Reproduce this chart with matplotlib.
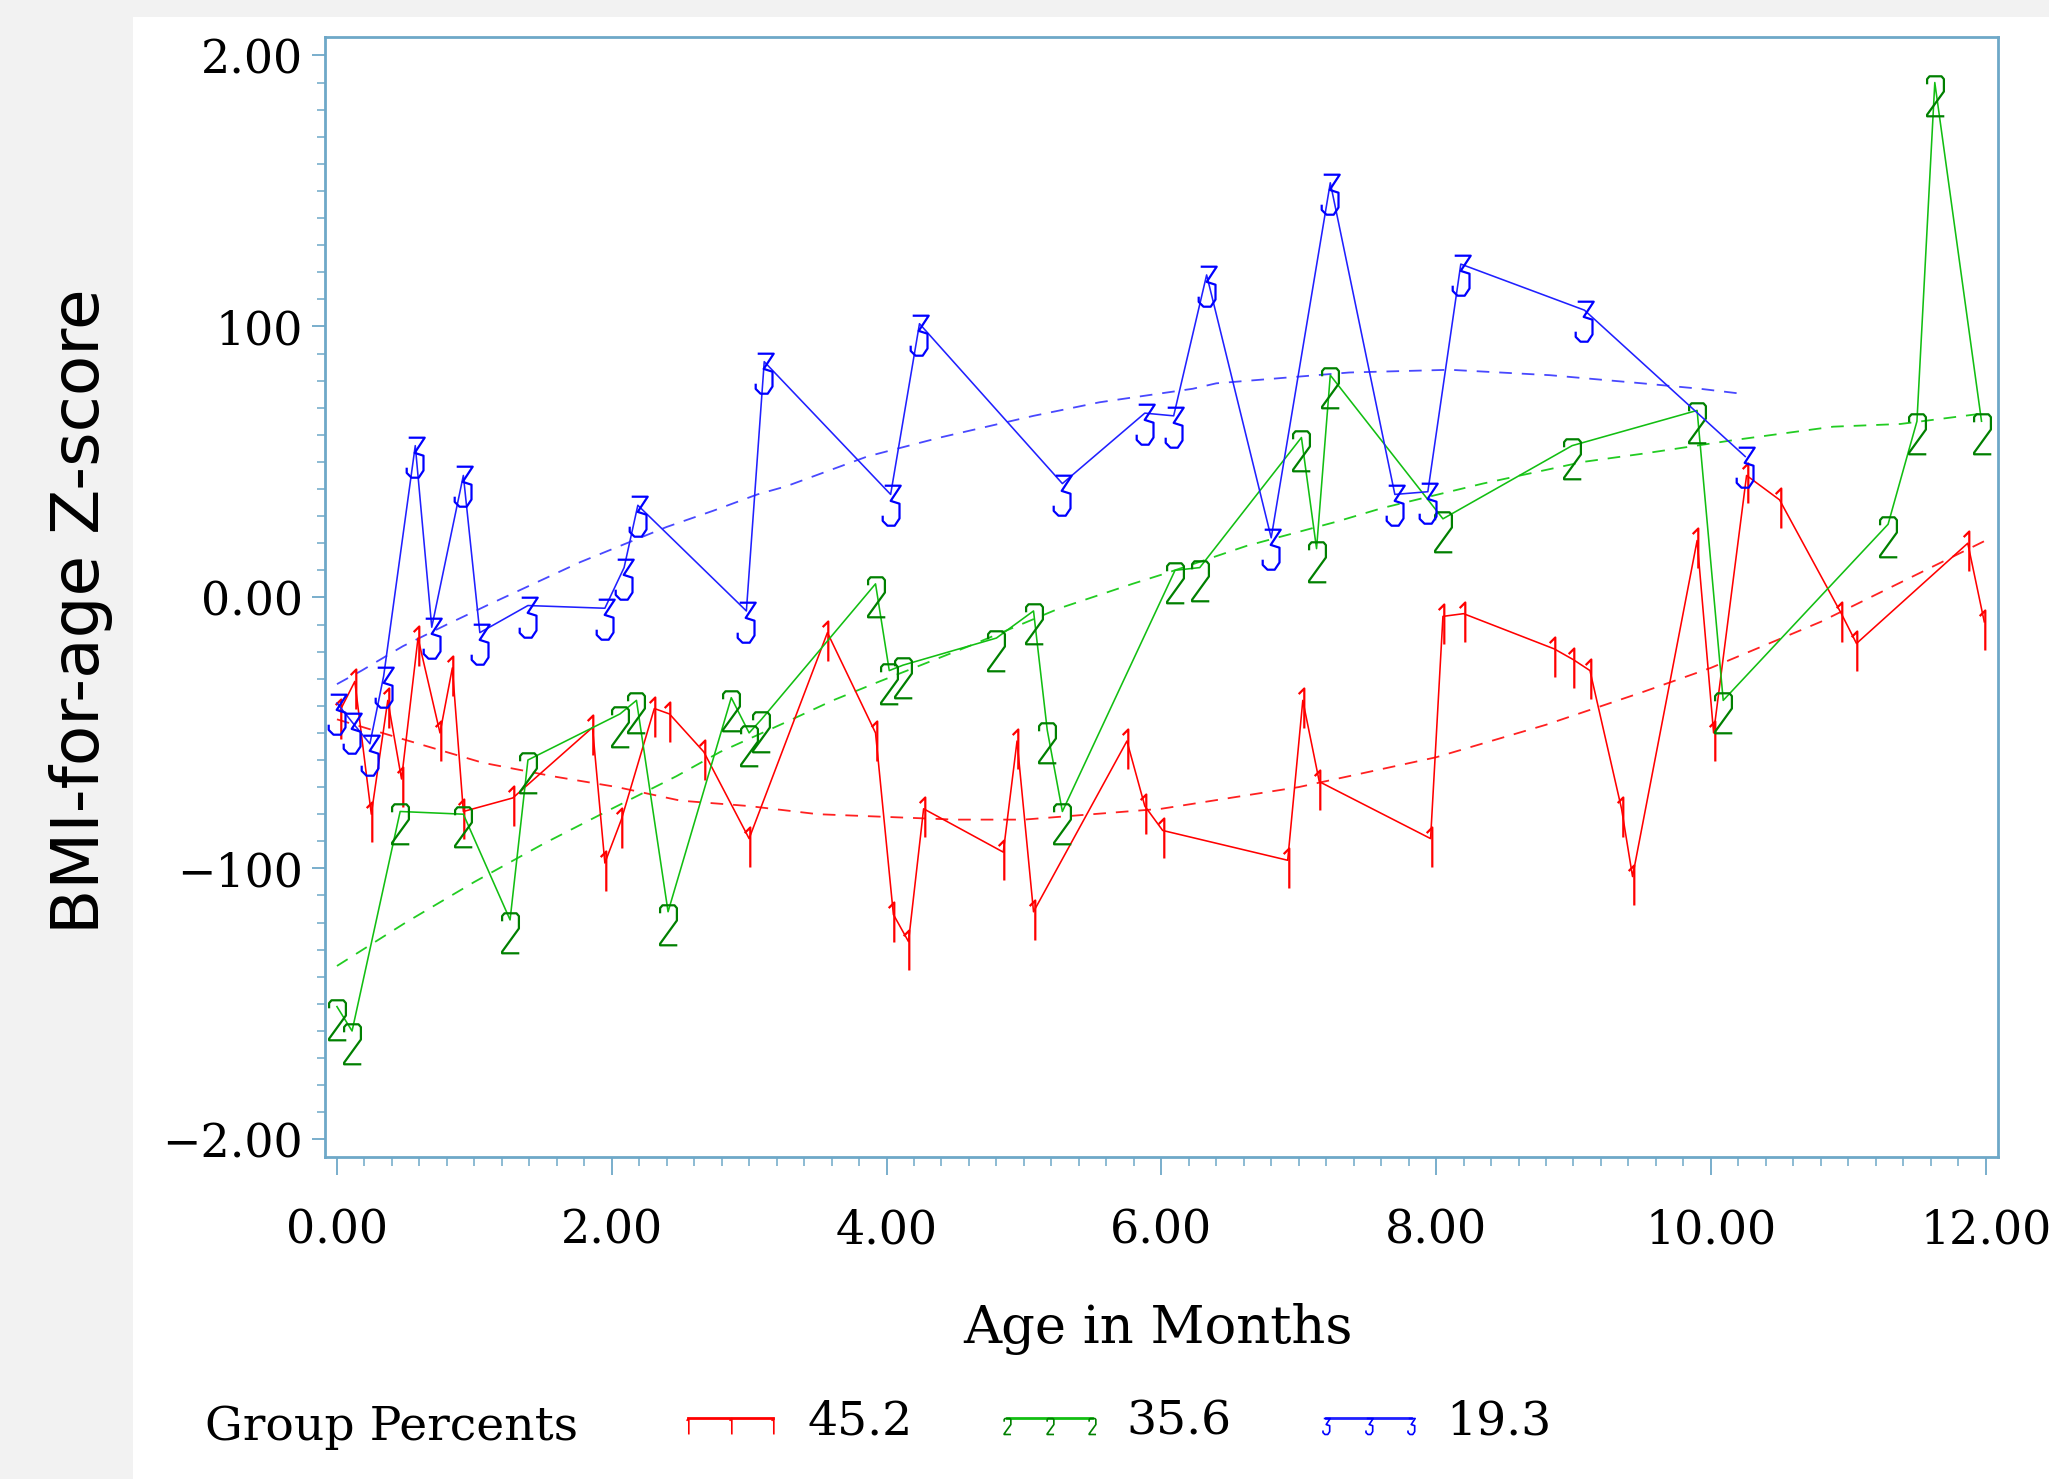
import matplotlib
matplotlib.use("Agg")
import matplotlib.pyplot as plt
from matplotlib.path import Path
from matplotlib.lines import Line2D
from matplotlib.patches import Rectangle
from matplotlib.ticker import MultipleLocator, FixedLocator, FixedFormatter

# ---- data (age in months, BMI-for-age z) ----
age_g1 = [0.02, 0.13, 0.25, 0.37, 0.47, 0.59, 0.75, 0.84, 0.92, 1.28,
          1.86, 1.95, 2.07, 2.31, 2.42, 2.67, 3.00, 3.57, 3.92, 4.05,
          4.16, 4.27, 4.85, 4.95, 5.07, 5.75, 5.88, 6.01, 6.92, 7.03,
          7.15, 7.96, 8.05, 8.20, 8.86, 9.00, 9.12, 9.35, 9.43, 9.90,
          10.02, 10.26, 10.50, 10.95, 11.06, 11.87, 11.99]
bmiz_g1 = [-0.42, -0.31, -0.80, -0.38, -0.67, -0.15, -0.50, -0.26, -0.79, -0.74,
           -0.48, -0.98, -0.82, -0.41, -0.43, -0.57, -0.89, -0.13, -0.50, -1.17,
           -1.27, -0.78, -0.94, -0.53, -1.16, -0.53, -0.77, -0.86, -0.97, -0.38,
           -0.68, -0.89, -0.07, -0.06, -0.19, -0.23, -0.27, -0.78, -1.03, 0.21,
           -0.50, 0.45, 0.36, -0.06, -0.17, 0.20, -0.09]

age_g2 = [0.00, 0.11, 0.46, 0.92, 1.26, 1.39, 2.06, 2.18, 2.41, 2.87,
          3.00, 3.09, 3.92, 4.02, 4.12, 4.80, 5.07, 5.17, 5.28, 6.10,
          6.28, 7.02, 7.13, 7.23, 8.05, 8.99, 9.90, 10.09, 11.29, 11.50,
          11.63, 11.97]
bmiz_g2 = [-1.51, -1.60, -0.79, -0.80, -1.19, -0.60, -0.43, -0.38, -1.16, -0.37,
           -0.50, -0.45, 0.05, -0.27, -0.25, -0.15, -0.05, -0.49, -0.79, 0.10,
           0.11, 0.59, 0.18, 0.82, 0.29, 0.56, 0.69, -0.38, 0.27, 0.65,
           1.90, 0.65]

age_g3 = [0.00, 0.11, 0.24, 0.34, 0.57, 0.69, 0.92, 1.04, 1.39, 1.95,
          2.09, 2.19, 2.98, 3.11, 4.03, 4.24, 5.28, 5.88, 6.09, 6.33,
          6.80, 7.23, 7.70, 7.94, 8.18, 9.08, 10.25]
bmiz_g3 = [-0.39, -0.46, -0.54, -0.29, 0.56, -0.11, 0.45, -0.13, -0.03, -0.04,
           0.11, 0.34, -0.05, 0.87, 0.38, 1.01, 0.42, 0.68, 0.67, 1.19,
           0.22, 1.53, 0.38, 0.39, 1.23, 1.06, 0.52]

# fitted group trajectories (dashed), read at a few ages
trend_age_g1 = [0.0, 0.46, 1.06, 1.57, 2.04, 2.5, 3.0, 3.5, 4.0, 4.5, 5.0, 5.5,
                6.0, 6.5, 7.0, 8.0, 8.8, 9.5, 10.0, 10.8, 11.4, 12.0]
trend_z_g1 = [-0.45, -0.52, -0.61, -0.66, -0.70, -0.75, -0.77, -0.80, -0.81, -0.82, -0.82, -0.80,
              -0.78, -0.74, -0.70, -0.59, -0.47, -0.35, -0.26, -0.09, 0.06, 0.21]
trend_age_g2 = [0.0, 0.5, 1.0, 1.5, 2.0, 2.47, 2.79, 3.27, 3.61, 3.95, 4.6, 5.26,
                5.79, 6.04, 6.62, 7.28, 7.61, 8.34, 9.07, 9.5, 10.16, 10.89, 11.38, 12.0]
trend_z_g2 = [-1.36, -1.20, -1.05, -0.91, -0.78, -0.66, -0.57, -0.46, -0.38, -0.31, -0.18, -0.04,
              0.05, 0.09, 0.19, 0.28, 0.33, 0.42, 0.50, 0.53, 0.58, 0.63, 0.64, 0.68]
trend_age_g3 = [0.0, 0.18, 0.48, 0.8, 1.09, 1.43, 1.77, 2.4, 2.74, 3.06, 3.27, 3.86,
                4.39, 5.07, 5.55, 6.23, 6.4, 7.37, 8.1, 8.83, 9.5, 9.92, 10.25]
trend_z_g3 = [-0.32, -0.27, -0.18, -0.10, -0.03, 0.05, 0.13, 0.26, 0.32, 0.38, 0.41, 0.52,
              0.59, 0.67, 0.72, 0.77, 0.79, 0.83, 0.84, 0.82, 0.79, 0.77, 0.75]

group_pct = ["45.2", "35.6", "19.3"]
x_ticks = [0, 2, 4, 6, 8, 10, 12]
x_tick_labels = ["0.00", "2.00", "4.00", "6.00", "8.00", "10.00", "12.00"]
y_ticks = [-2, -1, 0, 1, 2]
y_tick_labels = ["\u22122.00", "\u2212100", "0.00", "100", "2.00"]

# ---- styling ----
W, H = 2049, 1479
frame_c = "#6EA8C8"
serif = "DejaVu Serif"

# SAS-like stroke digits, unit height, centred in x
GLYPHS = {
    "1": [[(-0.12, 0.86), (0.02, 1.0), (0.02, 0.0)]],
    "2": [[(-0.21, 0.80), (-0.21, 0.93), (-0.15, 1.0), (0.15, 1.0), (0.21, 0.93),
           (0.21, 0.62), (-0.21, 0.04), (-0.21, 0.0), (0.22, 0.0)]],
    "3": [[(-0.17, 1.0), (0.23, 1.0), (-0.02, 0.62), (0.20, 0.55), (0.20, 0.18),
           (0.08, 0.0), (-0.10, 0.0), (-0.22, 0.12), (-0.22, 0.25)]],
}


def glyph_path(ch, anchor):
    """anchor = where the data point sits, as fraction down from the glyph top"""
    verts, codes = [], []
    for stroke in GLYPHS[ch]:
        for i, (gx, gy) in enumerate(stroke):
            verts.append((gx, gy - (1 - anchor)))
            codes.append(Path.MOVETO if i == 0 else Path.LINETO)
    return Path(verts, codes)


glyph_h = 28.8  # pt, height of the plotted digits
series = [
    (age_g1, bmiz_g1, "1", 0.30, "#FF0000", "#FF0000", "#FF2020", trend_age_g1, trend_z_g1),
    (age_g2, bmiz_g2, "2", 0.18, "#12BE12", "#008000", "#22CC22", trend_age_g2, trend_z_g2),
    (age_g3, bmiz_g3, "3", 0.22, "#2020FF", "#0000FF", "#4848FF", trend_age_g3, trend_z_g3),
]

fig = plt.figure(figsize=(W / 100, H / 100), dpi=100)
fig.patch.set_facecolor("white")
fig.add_artist(Rectangle((0, 0), 133 / W, 1, transform=fig.transFigure,
                         facecolor="#F2F2F2", edgecolor="none", zorder=-5))
fig.add_artist(Rectangle((0, 1 - 17 / H), 1, 17 / H, transform=fig.transFigure,
                         facecolor="#F2F2F2", edgecolor="none", zorder=-5))

ax = fig.add_axes([325 / W, 1 - 1157 / H, (1998 - 325) / W, (1157 - 37) / H])

handles = []
for ages, zs, ch, anc, line_c, glyph_c, trend_c, t_age, t_z in series:
    ax.plot(t_age, t_z, color=trend_c, lw=1.3, ls=(0, (7, 5.5)), zorder=2)
    ax.plot(ages, zs, color=line_c, lw=1.15, zorder=3,
            marker=glyph_path(ch, anc), markersize=2 * glyph_h * (1 - anc),
            fillstyle="none", markeredgecolor=glyph_c, markeredgewidth=1.6)
    handles.append(Line2D([], [], color=line_c, lw=2.0,
                          marker=glyph_path(ch, 0.0), markersize=2 * 11.5,
                          fillstyle="none", markeredgecolor=glyph_c, markeredgewidth=1.2))

ax.set_xlim(-0.087, 12.09)
ax.set_ylim(-2.065, 2.068)
ax.xaxis.set_major_locator(FixedLocator(x_ticks))
ax.xaxis.set_major_formatter(FixedFormatter(x_tick_labels))
ax.xaxis.set_minor_locator(MultipleLocator(0.2))
ax.yaxis.set_major_locator(FixedLocator(y_ticks))
ax.yaxis.set_major_formatter(FixedFormatter(y_tick_labels))
ax.yaxis.set_minor_locator(MultipleLocator(0.1))

for s in ax.spines.values():
    s.set_color(frame_c)
    s.set_linewidth(2.0)
ax.tick_params(axis="x", which="major", length=13, width=1.3, color=frame_c, pad=24)
ax.tick_params(axis="x", which="minor", length=6.5, width=1.1, color=frame_c)
ax.tick_params(axis="y", which="major", length=9.4, width=1.3, color=frame_c, pad=6.5)
ax.tick_params(axis="y", which="minor", length=5.8, width=1.1, color=frame_c)
for lab in ax.get_xticklabels() + ax.get_yticklabels():
    lab.set_fontfamily(serif)
    lab.set_fontsize(33)
    lab.set_color("black")

fig.text(81 / W, 1 - 611 / H, "BMI-for-age Z-score", rotation=90,
         ha="center", va="center", fontsize=47.5, family="DejaVu Sans")
fig.text(1158 / W, 1 - 1329 / H, "Age in Months", ha="center", va="center",
         fontsize=38, family=serif)

fig.text(205 / W, 1 - 1427 / H, "Group Percents", ha="left", va="center",
         fontsize=34, family=serif)
fig.legend(handles, group_pct, loc="center left", bbox_to_anchor=(674 / W, 1 - 1422 / H),
           ncol=3, frameon=False, numpoints=3, handlelength=2.4, handletextpad=0.43,
           columnspacing=1.7, borderpad=0, borderaxespad=0,
           prop={"family": serif, "size": 34})

fig.savefig("out.png", dpi=100)
